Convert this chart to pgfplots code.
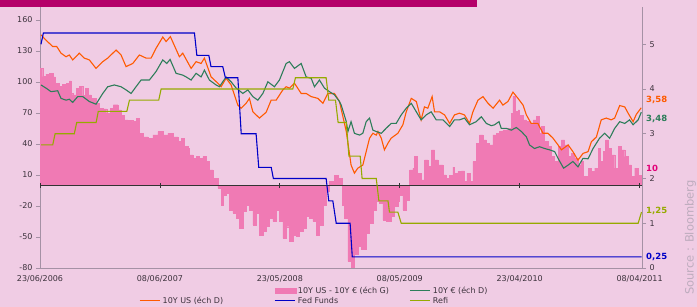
\documentclass[border=0pt]{standalone}
\usepackage{fontspec}
\setmainfont{DejaVu Sans}
\usepackage{pgfplots}
\pgfplotsset{compat=1.18}
\definecolor{bgpink}{RGB}{240,204,228}
\definecolor{topbar}{RGB}{181,0,106}
\definecolor{barpink}{RGB}{240,122,180}
\definecolor{usorange}{RGB}{255,90,0}
\definecolor{eugreen}{RGB}{46,125,90}
\definecolor{fedblue}{RGB}{0,0,200}
\definecolor{refiolive}{RGB}{150,170,0}
\definecolor{axgrey}{RGB}{165,145,165}
\definecolor{txtgrey}{RGB}{60,50,60}
\definecolor{lblpink}{RGB}{225,0,120}
\definecolor{srcgrey}{RGB}{190,172,190}
\pgfplotsset{
  linelegend/.style={legend image code/.code={\draw[##1, line width=1pt] (0pt,0pt) -- (20.5pt,0pt);}},
  arealegend/.style={legend image code/.code={\fill[barpink] (0pt,-2.4pt) rectangle (21pt,2.4pt);}},
}
\begin{document}
\begin{tikzpicture}[x=1pt,y=1pt]
\fill[bgpink] (0,0) rectangle (697,307);
\useasboundingbox (0,0) rectangle (697,307);
\fill[topbar] (0,300.3) rectangle (477,307);

\begin{axis}[
  at={(40pt,39pt)}, anchor=south west, scale only axis,
  width=602pt, height=261pt,
  xmin=0, xmax=251, ymin=-80, ymax=172.6,
  axis x line*=bottom, axis y line*=left,
  axis line style={axgrey, line width=0.8pt},
  xtick={0,50,100,150,200,250},
  xticklabels={23/06/2006,08/06/2007,23/05/2008,08/05/2009,23/04/2010,08/04/2011},
  ytick={-80,-50,-20,10,40,70,100,130,160},
  tick align=outside, major tick length=4pt,
  x tick style={draw=none}, y tick style={axgrey, line width=0.7pt},
  tick label style={font=\fontsize{8}{9}\selectfont, text=txtgrey},
  /pgf/number format/assume math mode=true,
  clip mode=individual,
]
\addplot[ybar interval, fill=barpink, draw=barpink, line width=0.3pt, forget plot] coordinates {
(0,113.4) (1.13,105.3) (2.50,107.6) (3.88,108.6) (5.55,105) (6.38,98.9) (8.05,95.6) (9.18,97.9) (10.85,98.9) (12.22,101) (12.93,89) (13.64,87.6) (15.02,94) (16.40,95.6) (17.81,87) (18.90,94) (20.15,87.6) (21.28,84.4) (23.36,79.5) (24.74,74.7) (26.16,74) (27.83,70) (29.20,74.7) (30.58,78) (32.42,73) (33.79,68) (35.17,63.4) (36.59,63) (38.67,61.8) (40.05,65) (41.43,50.5) (42.85,47) (44.93,45.6) (47.02,48.9) (49.10,52) (51.19,48.9) (53.28,50.5) (55.36,47) (57.45,42.4) (58.83,45.6) (60.20,37.5) (61.62,36) (62.29,29.5) (63.71,26.3) (65.08,27.9) (66.46,26.3) (67.88,27.9) (69.26,23) (70.63,15) (72.05,7) (74.14,-2.7) (75.51,-18.9) (76.22,-9.2) (77.60,-7.5) (78.98,-23.7) (80.40,-27) (81.77,-31.7) (83.15,-41.4) (84.57,-25.4) (85.94,-18.9) (87.32,-23.7) (88.74,-38.2) (90.12,-27) (91.49,-47.9) (92.91,-44.7) (94.29,-39.9) (95.66,-31.7) (97.08,-35) (98.46,-23.7) (99.84,-35) (101.25,-51) (102.63,-40) (104.01,-54.4) (105.43,-47.9) (106.80,-49.5) (108.18,-44.7) (109.60,-41.4) (110.98,-30.2) (112.35,-31.7) (113.77,-35) (115.15,-47.9) (116.53,-38.2) (117.94,-18.9) (119.32,-6) (120.70,3.7) (122.78,10) (124.20,7) (125.99,-19) (126.95,-31.7) (128.37,-73.7) (129.75,-80) (131.12,-67) (132.54,-59) (133.92,-62) (136.01,-46) (137.38,-36.6) (138.80,-23.7) (140.18,-15.7) (141.56,-17.2) (142.97,-33.4) (144.35,-34.4) (146.44,-30.2) (147.81,-20.5) (149.23,-15.7) (149.90,-9.2) (151.32,-23.7) (152.70,-14) (154.07,15) (155.49,16.6) (156.16,27.9) (157.16,11.8) (158.95,5.3) (160.33,24.7) (161.75,18.2) (163.13,34.4) (164.50,24.7) (165.92,19.8) (168.00,10.2) (169.38,7) (170.76,10) (172.18,17.6) (172.85,11.8) (174.26,13.4) (175.64,14) (177.02,3.7) (178.02,11.8) (179.40,3.7) (180.52,23) (181.90,40.8) (183.28,48.9) (184.70,44) (186.07,40.8) (187.45,39.2) (188.87,48.9) (190.25,50.5) (191.62,52) (193.04,53.7) (195.13,55.4) (196.50,70) (197.21,86) (198.30,71.4) (199.30,73) (199.97,68) (201.38,63.4) (202.76,61.8) (204.14,60.2) (205.56,63.4) (206.93,66.6) (208.06,50.5) (209.02,57) (210.40,42.4) (211.82,37.5) (213.19,27.9) (214.57,23) (215.99,37.5) (217.36,44) (218.74,39.2) (220.16,27.9) (221.53,31.2) (222.91,26.3) (224.33,19.8) (225.71,23) (226.42,8.5) (228.50,16.6) (229.88,13.4) (231.26,16.6) (232.67,36) (233.63,23) (234.76,32.7) (235.84,44) (236.84,36) (238.22,29.5) (239.60,16.6) (241.01,37.5) (242.39,34.4) (243.77,27.9) (245.18,19.8) (246.56,8.5) (247.94,16.6) (249.36,10) (250.72,10)
};
\draw[black!80, line width=0.8pt] (axis cs:0,0) -- (axis cs:251,0);
\pgfplotsinvokeforeach{0,50,100,150,200,250}{
  \draw[black!80, line width=0.7pt] ([yshift=-2.5pt]axis cs:#1,0) -- ([yshift=2.5pt]axis cs:#1,0);
}
\end{axis}

\begin{axis}[
  at={(40pt,39pt)}, anchor=south west, scale only axis,
  width=602pt, height=261pt,
  xmin=0, xmax=251, ymin=0, ymax=5.832,
  axis x line=none, axis y line*=right,
  axis line style={axgrey, line width=0.8pt},
  ytick={0,1,2,3,4,5},
  tick align=outside, major tick length=4pt,
  y tick style={axgrey, line width=0.7pt},
  tick label style={font=\fontsize{8}{9}\selectfont, text=txtgrey},
  /pgf/number format/assume math mode=true,
  clip mode=individual,
  legend columns=3,
  legend cell align=left,
  legend style={at={(axis description cs:0.1645,-0.063)}, anchor=north west,
    draw=none, fill=none, inner xsep=0pt, inner ysep=0pt, row sep=-1.5pt,
    font=\fontsize{8}{9}\selectfont, text=txtgrey},
]
\addplot[usorange, line width=1.1pt, forget plot] coordinates {
(0.42,5.21) (2.50,5.09) (5.30,4.95) (6.97,4.95) (8.76,4.80) (10.85,4.72) (12.22,4.76) (13.64,4.65) (16.40,4.80) (18.48,4.69) (20.57,4.65) (23.36,4.46) (26.16,4.61) (28.24,4.69) (31.71,4.87) (33.79,4.76) (35.88,4.50) (38.67,4.57) (41.43,4.76) (44.22,4.69) (46.31,4.69) (48.39,4.91) (51.19,5.16) (52.57,5.06) (54.36,5.17) (58.12,4.72) (59.53,4.80) (63.00,4.46) (65.08,4.61) (67.17,4.57) (68.54,4.69) (71.34,4.27) (74.13,4.13) (75.51,4.05) (77.60,4.24) (79.68,4.09) (82.48,3.64) (83.85,3.57) (85.94,3.68) (87.32,3.79) (88.74,3.49) (91.49,3.35) (94.29,3.48) (96.37,3.75) (98.46,3.75) (101.25,3.98) (102.63,4.05) (104.01,4.02) (106.09,4.13) (108.89,3.90) (110.97,3.90) (113.06,3.83) (115.85,3.79) (117.94,3.68) (120.03,3.90) (122.78,3.90) (124.86,3.72) (127.7,3.05) (129.7,2.30) (131.1,2.12) (132.5,2.23) (134.6,2.30) (136.0,2.60) (137.4,2.90) (138.8,3.01) (140.2,2.97) (140.9,3.05) (142.3,2.90) (143.6,2.64) (145.1,2.79) (146.4,2.90) (149.2,3.01) (151.3,3.20) (152.7,3.49) (154.8,3.79) (156.9,3.72) (158.9,3.31) (160.3,3.60) (161.7,3.57) (163.5,3.83) (164.5,3.49) (166.6,3.49) (168.7,3.42) (170.8,3.23) (172.8,3.42) (174.9,3.46) (177.0,3.42) (179.1,3.23) (180.5,3.49) (182.6,3.75) (184.7,3.83) (186.8,3.68) (188.9,3.57) (191.6,3.75) (193.0,3.64) (195.1,3.72) (197.2,3.93) (199.3,3.79) (201.4,3.64) (202.8,3.42) (204.8,3.23) (207.6,3.23) (209.7,3.01) (211.8,3.01) (213.9,2.90) (216.0,2.75) (217.4,2.64) (220.2,2.75) (222.2,2.60) (224.3,2.41) (226.4,2.56) (228.5,2.60) (229.9,2.82) (232.0,2.93) (234.0,3.31) (236.1,3.35) (238.2,3.31) (239.6,3.35) (241.7,3.63) (243.8,3.60) (245.2,3.46) (247.3,3.27) (248.6,3.43) (250.7,3.58)
};
\addplot[eugreen, line width=1.1pt, forget plot] coordinates {
(0.42,4.09) (2.50,4.02) (4.59,3.94) (7.38,3.96) (8.76,3.79) (10.85,3.75) (12.22,3.77) (13.64,3.70) (15.73,3.83) (17.81,3.83) (20.57,3.72) (23.36,3.66) (26.16,3.90) (28.24,4.05) (31.0,4.09) (33.79,4.05) (35.88,3.98) (37.96,3.90) (40.05,4.05) (42.14,4.20) (45.6,4.20) (48.39,4.39) (51.19,4.65) (52.86,4.57) (54.24,4.66) (56.74,4.35) (59.53,4.31) (60.91,4.27) (63.0,4.20) (65.08,4.35) (67.17,4.27) (68.54,4.42) (70.63,4.20) (73.43,4.09) (74.80,4.05) (77.60,4.27) (79.68,4.16) (81.77,4.02) (84.57,3.90) (86.65,3.98) (88.74,3.83) (90.82,3.75) (92.91,3.90) (95.0,4.16) (97.75,4.05) (99.83,4.20) (102.63,4.57) (104.0,4.61) (106.09,4.46) (108.89,4.57) (110.97,4.27) (113.06,4.24) (114.44,4.05) (116.52,4.20) (118.6,4.02) (120.69,3.94) (122.78,3.87) (124.86,3.72) (125.6,3.64) (127.7,3.27) (128.4,3.05) (129.7,3.27) (131.1,3.01) (133.2,2.97) (134.6,3.01) (136.0,3.27) (137.4,3.35) (138.8,3.08) (140.2,3.05) (142.3,3.01) (144.3,3.12) (146.4,3.23) (148.5,3.23) (150.6,3.42) (152.7,3.57) (154.8,3.68) (156.9,3.49) (158.9,3.31) (161.0,3.42) (163.1,3.49) (165.2,3.31) (168.0,3.31) (170.8,3.16) (172.8,3.31) (174.9,3.31) (177.0,3.35) (179.1,3.20) (181.9,3.27) (184.0,3.38) (186.1,3.23) (188.2,3.18) (189.5,3.20) (191.4,3.27) (192.3,3.12) (194.4,3.12) (196.5,3.08) (198.6,3.14) (200.7,3.05) (202.8,2.93) (204.1,2.75) (206.2,2.67) (208.3,2.71) (210.4,2.67) (212.5,2.64) (214.6,2.60) (216.0,2.45) (218.3,2.23) (220.2,2.30) (222.2,2.38) (224.3,2.26) (226.4,2.45) (228.5,2.44) (230.6,2.67) (233.3,2.90) (235.4,3.01) (237.5,2.90) (239.6,3.12) (241.7,3.27) (243.8,3.23) (245.8,3.31) (247.3,3.20) (249.4,3.31) (250.7,3.48)
};
\addplot[fedblue, line width=1.1pt, forget plot] coordinates {
(0.42,5.0) (1.4,5.25) (64.4,5.25) (65.4,4.75) (70.4,4.75) (71.3,4.5) (76.2,4.5) (77.3,4.25) (82.5,4.25) (83.9,3.0) (90.1,3.0) (91.2,2.25) (96.4,2.25) (97.3,2.0) (119.3,2.0) (120.4,1.5) (122.1,1.5) (123.5,1.0) (129.3,1.0) (130.2,0.25) (250.8,0.25)
};
\addplot[refiolive, line width=1.1pt, forget plot] coordinates {
(0.42,2.75) (5.3,2.75) (6.3,3.0) (14.3,3.0) (15.3,3.25) (23.4,3.25) (24.3,3.5) (36.2,3.5) (37.3,3.75) (49.5,3.75) (50.5,4.0) (105.4,4.0) (106.5,4.25) (119.3,4.25) (120.4,3.75) (123.2,3.75) (124.3,3.25) (127.7,3.25) (128.8,2.5) (133.5,2.5) (134.3,2.0) (140.2,2.0) (141.3,1.5) (145.1,1.5) (145.7,1.25) (149.2,1.25) (150.6,1.0) (249.4,1.0) (250.8,1.25)
};
\addlegendimage{empty legend}\addlegendentry{}
\addlegendimage{arealegend}\addlegendentry{\makebox[109.5pt][l]{10Y US - 10Y € (éch G)}}
\addlegendimage{linelegend, eugreen}\addlegendentry{\makebox[109.5pt][l]{10Y € (éch D)}}
\addlegendimage{linelegend, usorange}\addlegendentry{\makebox[109.5pt][l]{10Y US (éch D)}}
\addlegendimage{linelegend, fedblue}\addlegendentry{\makebox[109.5pt][l]{Fed Funds}}
\addlegendimage{linelegend, refiolive}\addlegendentry{\makebox[109.5pt][l]{Refi}}

\begin{scope}[every node/.style={anchor=west, inner sep=0pt, xshift=4pt, font=\fontsize{8.5}{9}\selectfont\bfseries}]
\node[text=usorange] at (axis cs:251,3.754) {3,58};
\node[text=eugreen] at (axis cs:251,3.34) {3,48};
\node[text=lblpink] at (axis cs:251,2.23) {10};
\node[text=refiolive] at (axis cs:251,1.264) {1,25};
\node[text=fedblue] at (axis cs:251,0.253) {0,25};
\end{scope}
\end{axis}

\node[rotate=90, anchor=base west, inner sep=0pt, font=\fontsize{11.5}{12}\selectfont, text=srcgrey] at (693.5,12) {Source : Bloomberg};
\end{tikzpicture}
\end{document}
